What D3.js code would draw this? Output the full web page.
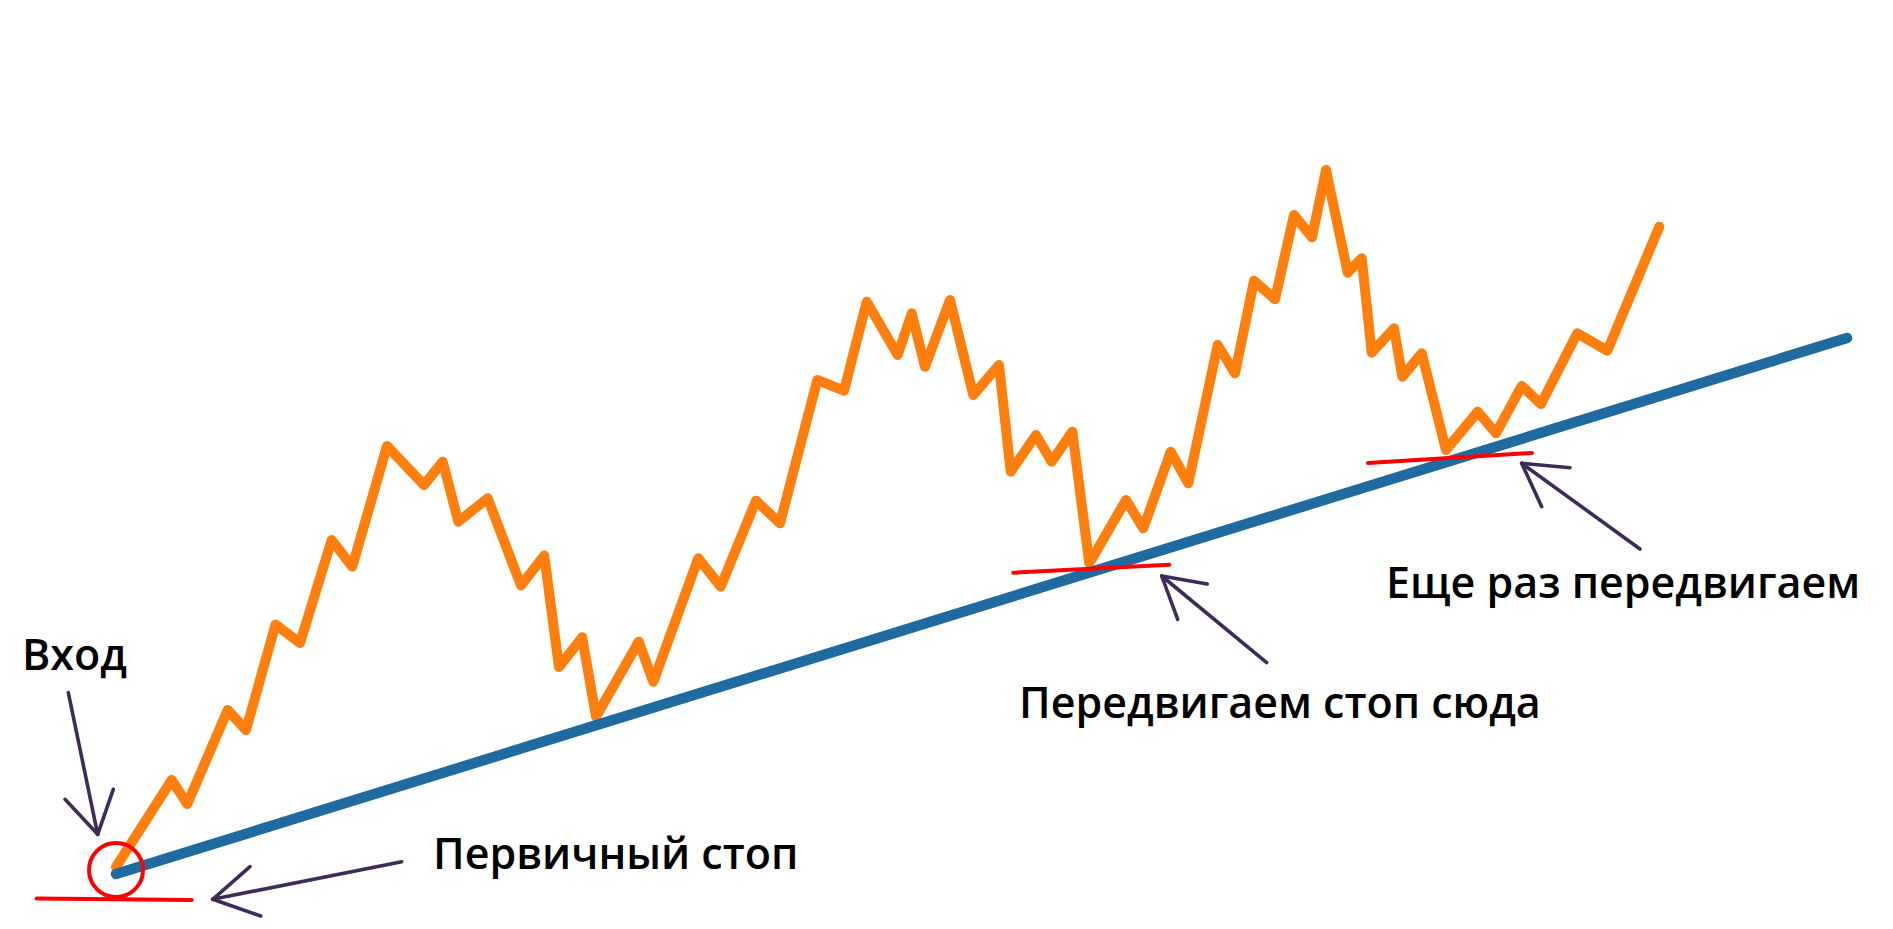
<!DOCTYPE html>
<html>
<head>
<meta charset="utf-8">
<script src="https://cdn.jsdelivr.net/npm/d3@7"></script>
<style>
  html, body { margin: 0; padding: 0; background: #fff; overflow: hidden; }
  text { font-family: "Open Sans", "Noto Sans", sans-serif; font-weight: 600; fill: #000; }
</style>
</head>
<body>
<svg id="chart" width="1893" height="929"></svg>
<script>
// ---- data (time units, price units) ----
const priceTime = [116, 171.7, 187.3, 227.7, 246, 275.5, 300, 331.7, 352.3, 387, 424, 442.7, 458.3, 487.7, 521, 544.2, 559, 582.2, 596, 638.7, 653.3, 698.3, 720.7, 756, 780, 817.3, 844, 866.7, 897.7, 911.7, 925, 950, 973.3, 999, 1010.7, 1036, 1051.7, 1072.3, 1089.3, 1126, 1143.3, 1170.7, 1188.3, 1217.7, 1235, 1254, 1275, 1294, 1312, 1326, 1347.7, 1361.7, 1371.7, 1394, 1402.3, 1421.7, 1446, 1477.7, 1496, 1521.7, 1541, 1577.3, 1607.3, 1659.3];
const priceValue = [62, 149, 125, 219, 199, 304.5, 286, 389, 362.3, 483, 444, 467.3, 407.3, 430.7, 343.5, 373.5, 262, 291.7, 212.3, 287.3, 247.3, 370.7, 342.3, 428.3, 405.7, 549, 538.3, 627.3, 574, 615.7, 562.3, 629, 534, 564, 457.3, 494, 467.3, 497.3, 365.7, 429, 400.7, 477.3, 445.7, 584, 555.7, 648.3, 629.7, 714, 691.7, 759, 656.3, 670.7, 576.3, 600.7, 552.3, 575.7, 479, 517.3, 495.7, 543, 525, 595.7, 578.3, 702.3];

// trend line (support) endpoints
const trendTime = [116, 1847];
const trendValue = [55, 591];

// stop levels: [startTime, startValue, endTime, endValue]
const stopLevels = [
  [36.7, 30.5, 191.7, 29],
  [1013.3, 356.3, 1169.3, 364.3],
  [1368, 466, 1532, 476]
];

// entry marker
const entryPoint = [116, 59];

// annotations: label, label anchor (time, value), arrow tail, tip, head1, head2
const labels = ["Вход", "Первичный стоп", "Передвигаем стоп сюда", "Еще раз передвигаем"];
const labelAnchor = [[22, 259], [433, 60], [1019, 211], [1386, 331]];
const arrowTail = [[68.3, 236.3], [401.7, 67.3], [1266.7, 266.3], [1640, 380]];
const arrowTip = [[97.7, 94.7], [212.7, 29.7], [1161.7, 353], [1521.7, 465.7]];
const arrowHeadA = [[65, 129.7], [250, 62.3], [1207.3, 345], [1570, 461.3]];
const arrowHeadB = [[113.3, 139.7], [260.7, 13], [1177.7, 309.7], [1541.7, 422.3]];

// ---- drawing ----
const W = 1893, H = 929;
const svg = d3.select("#chart");
svg.append("rect").attr("width", W).attr("height", H).attr("fill", "#fff");

const x = d3.scaleLinear().domain([0, W]).range([0, W]);
const y = d3.scaleLinear().domain([0, H]).range([H, 0]);

const trend = trendTime.map((t, i) => [t, trendValue[i]]);
const price = priceTime.map((t, i) => [t, priceValue[i]]);

const line = d3.line().x(d => x(d[0])).y(d => y(d[1]));

svg.append("path")
  .datum(price)
  .attr("d", line)
  .attr("fill", "none")
  .attr("stroke", "#ff7f0e")
  .attr("stroke-width", 10)
  .attr("stroke-linejoin", "round")
  .attr("stroke-linecap", "round");

svg.append("path")
  .datum(trend)
  .attr("d", line)
  .attr("fill", "none")
  .attr("stroke", "#1f6b9f")
  .attr("stroke-width", 10.5)
  .attr("stroke-linecap", "round");

svg.selectAll("line.stop")
  .data(stopLevels)
  .join("line")
  .attr("class", "stop")
  .attr("x1", d => x(d[0])).attr("y1", d => y(d[1]))
  .attr("x2", d => x(d[2])).attr("y2", d => y(d[3]))
  .attr("stroke", "#ff0000")
  .attr("stroke-width", 4)
  .attr("stroke-linecap", "round");

svg.append("circle")
  .attr("cx", x(entryPoint[0]))
  .attr("cy", y(entryPoint[1]))
  .attr("r", 27)
  .attr("fill", "none")
  .attr("stroke", "#ff0000")
  .attr("stroke-width", 4);

const arrowColor = "#3e2c58";
labels.forEach((lab, i) => {
  const g = svg.append("g");
  const segs = [
    [arrowTail[i], arrowTip[i]],
    [arrowHeadA[i], arrowTip[i]],
    [arrowHeadB[i], arrowTip[i]]
  ];
  g.selectAll("line")
    .data(segs)
    .join("line")
    .attr("x1", d => x(d[0][0])).attr("y1", d => y(d[0][1]))
    .attr("x2", d => x(d[1][0])).attr("y2", d => y(d[1][1]))
    .attr("stroke", arrowColor)
    .attr("stroke-width", 3.6)
    .attr("stroke-linecap", "round");
  svg.append("text")
    .attr("x", x(labelAnchor[i][0]))
    .attr("y", y(labelAnchor[i][1]))
    .attr("font-size", 43)
    .text(lab);
});
</script>
</body>
</html>
